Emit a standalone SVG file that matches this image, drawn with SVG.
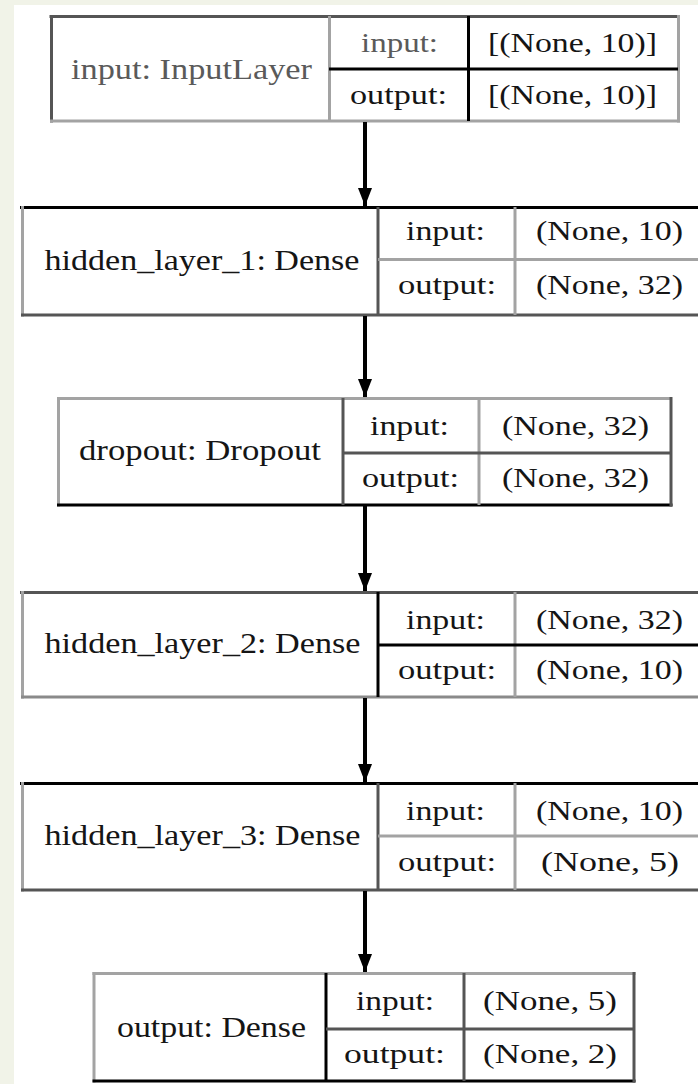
<svg xmlns="http://www.w3.org/2000/svg" width="698" height="1084" viewBox="0 0 698 1084">
  <style>
    .e { stroke-width: 3; fill: none; }
    .k { stroke: #000000; }
    .d { stroke: #555555; }
    .g { stroke: #a3a3a3; }
    .m { stroke: #8a8a8a; }
    text { font-family: "Liberation Serif", "Times New Roman", serif; fill: #151515; text-anchor: middle; }
    .lbl { font-size: 30px; }
    .row { font-size: 27px; }
    .soft { fill: #5a5a5a; }
    .conn { stroke: #000000; stroke-width: 4; fill: none; }
  </style>
  <defs>
    <marker id="head" viewBox="0 0 18 14" refX="18" refY="7" markerUnits="userSpaceOnUse" markerWidth="18" markerHeight="14" orient="auto">
      <path d="M0,0 L18,7 L0,14 Z" fill="#000000"/>
    </marker>
  </defs>

  <!-- page -->
  <rect x="0" y="0" width="698" height="1084" fill="#f1f3e8"/>
  <rect x="14" y="5" width="684" height="1079" fill="#ffffff"/>

  <!-- input: InputLayer -->
  <g id="node-input">
    <rect x="51" y="16" width="627" height="105" fill="#ffffff"/>
    <line class="e d" x1="49.5" y1="16.5" x2="680" y2="16.5"/>
    <line class="e d" x1="51.5" y1="15" x2="51.5" y2="122.5"/>
    <line class="e g" x1="50" y1="121" x2="680" y2="121"/>
    <line class="e g" x1="678.5" y1="15" x2="678.5" y2="122.5"/>
    <line class="e g" x1="329.5" y1="16" x2="329.5" y2="121"/>
    <line class="e k" x1="468.5" y1="16" x2="468.5" y2="121"/>
    <line class="e k" x1="329" y1="69" x2="678" y2="69"/>
    <text class="lbl soft" x="191.5" y="79" textLength="241" lengthAdjust="spacingAndGlyphs">input: InputLayer</text>
    <text class="row soft" x="399.5" y="52" textLength="77" lengthAdjust="spacingAndGlyphs">input:</text>
    <text class="row" x="572.5" y="52" textLength="169" lengthAdjust="spacingAndGlyphs">[(None, 10)]</text>
    <text class="row" x="398.5" y="104" textLength="97" lengthAdjust="spacingAndGlyphs">output:</text>
    <text class="row" x="572.5" y="104" textLength="169" lengthAdjust="spacingAndGlyphs">[(None, 10)]</text>
  </g>

  <!-- hidden_layer_1: Dense -->
  <g id="node-hidden1">
    <rect x="21" y="207" width="690" height="108" fill="#ffffff"/>
    <line class="e k" x1="20" y1="207.5" x2="698" y2="207.5"/>
    <line class="e g" x1="22.5" y1="206" x2="22.5" y2="316.5"/>
    <line class="e d" x1="21" y1="315" x2="698" y2="315"/>
    <line class="e d" x1="378" y1="207" x2="378" y2="315"/>
    <line class="e g" x1="515" y1="207" x2="515" y2="315"/>
    <line class="e g" x1="378" y1="259.5" x2="698" y2="259.5"/>
    <text class="lbl" x="202" y="270" textLength="315" lengthAdjust="spacingAndGlyphs">hidden_layer_1: Dense</text>
    <text class="row" x="445.5" y="240" textLength="79" lengthAdjust="spacingAndGlyphs">input:</text>
    <text class="row" x="609.5" y="240" textLength="147" lengthAdjust="spacingAndGlyphs">(None, 10)</text>
    <text class="row" x="447" y="294" textLength="98" lengthAdjust="spacingAndGlyphs">output:</text>
    <text class="row" x="609.5" y="294" textLength="147" lengthAdjust="spacingAndGlyphs">(None, 32)</text>
  </g>

  <!-- dropout: Dropout -->
  <g id="node-dropout">
    <rect x="58" y="398" width="613" height="107" fill="#ffffff"/>
    <line class="e g" x1="57" y1="398.5" x2="672" y2="398.5"/>
    <line class="e g" x1="58.5" y1="397" x2="58.5" y2="506.5"/>
    <line class="e k" x1="57" y1="505" x2="672.5" y2="505"/>
    <line class="e d" x1="671" y1="397" x2="671" y2="506.5"/>
    <line class="e d" x1="343" y1="398" x2="343" y2="505"/>
    <line class="e g" x1="479" y1="398" x2="479" y2="505"/>
    <line class="e d" x1="343" y1="453" x2="671" y2="453"/>
    <text class="lbl" x="200" y="460" textLength="242" lengthAdjust="spacingAndGlyphs">dropout: Dropout</text>
    <text class="row" x="409.5" y="435" textLength="79" lengthAdjust="spacingAndGlyphs">input:</text>
    <text class="row" x="575.5" y="435" textLength="147" lengthAdjust="spacingAndGlyphs">(None, 32)</text>
    <text class="row" x="410.5" y="487" textLength="97" lengthAdjust="spacingAndGlyphs">output:</text>
    <text class="row" x="575.5" y="487" textLength="147" lengthAdjust="spacingAndGlyphs">(None, 32)</text>
  </g>

  <!-- hidden_layer_2: Dense -->
  <g id="node-hidden2">
    <rect x="21" y="592" width="690" height="105" fill="#ffffff"/>
    <line class="e d" x1="20" y1="592.5" x2="698" y2="592.5"/>
    <line class="e g" x1="22.5" y1="591" x2="22.5" y2="698.5"/>
    <line class="e m" x1="21" y1="697" x2="698" y2="697"/>
    <line class="e k" x1="378" y1="592" x2="378" y2="697"/>
    <line class="e g" x1="515" y1="592" x2="515" y2="697"/>
    <line class="e k" x1="378" y1="645" x2="698" y2="645"/>
    <text class="lbl" x="202.5" y="653" textLength="316" lengthAdjust="spacingAndGlyphs">hidden_layer_2: Dense</text>
    <text class="row" x="445.5" y="629" textLength="79" lengthAdjust="spacingAndGlyphs">input:</text>
    <text class="row" x="609.5" y="629" textLength="147" lengthAdjust="spacingAndGlyphs">(None, 32)</text>
    <text class="row" x="447" y="679" textLength="98" lengthAdjust="spacingAndGlyphs">output:</text>
    <text class="row" x="609.5" y="679" textLength="147" lengthAdjust="spacingAndGlyphs">(None, 10)</text>
  </g>

  <!-- hidden_layer_3: Dense -->
  <g id="node-hidden3">
    <rect x="21" y="783" width="690" height="107" fill="#ffffff"/>
    <line class="e k" x1="20" y1="783.5" x2="698" y2="783.5"/>
    <line class="e g" x1="22.5" y1="782" x2="22.5" y2="891.5"/>
    <line class="e d" x1="21" y1="890" x2="698" y2="890"/>
    <line class="e d" x1="378" y1="783" x2="378" y2="890"/>
    <line class="e g" x1="515" y1="783" x2="515" y2="890"/>
    <line class="e g" x1="378" y1="836" x2="698" y2="836"/>
    <text class="lbl" x="202.5" y="845" textLength="316" lengthAdjust="spacingAndGlyphs">hidden_layer_3: Dense</text>
    <text class="row" x="445.5" y="820" textLength="79" lengthAdjust="spacingAndGlyphs">input:</text>
    <text class="row" x="609.5" y="820" textLength="147" lengthAdjust="spacingAndGlyphs">(None, 10)</text>
    <text class="row" x="447" y="871" textLength="98" lengthAdjust="spacingAndGlyphs">output:</text>
    <text class="row" x="610" y="871" textLength="138" lengthAdjust="spacingAndGlyphs">(None, 5)</text>
  </g>

  <!-- output: Dense -->
  <g id="node-output">
    <rect x="94" y="973" width="540" height="108" fill="#ffffff"/>
    <line class="e g" x1="92.5" y1="973.5" x2="635.5" y2="973.5"/>
    <line class="e g" x1="94" y1="972" x2="94" y2="1082.5"/>
    <line class="e k" x1="92.5" y1="1081" x2="635.5" y2="1081"/>
    <line class="e d" x1="634" y1="972" x2="634" y2="1082.5"/>
    <line class="e k" x1="326" y1="973" x2="326" y2="1081"/>
    <line class="e d" x1="464" y1="973" x2="464" y2="1081"/>
    <line class="e d" x1="326" y1="1029" x2="634" y2="1029"/>
    <text class="lbl" x="211.5" y="1037" textLength="189" lengthAdjust="spacingAndGlyphs">output: Dense</text>
    <text class="row" x="395" y="1010" textLength="78" lengthAdjust="spacingAndGlyphs">input:</text>
    <text class="row" x="550" y="1010" textLength="134" lengthAdjust="spacingAndGlyphs">(None, 5)</text>
    <text class="row" x="394.5" y="1063" textLength="101" lengthAdjust="spacingAndGlyphs">output:</text>
    <text class="row" x="550" y="1063" textLength="134" lengthAdjust="spacingAndGlyphs">(None, 2)</text>
  </g>

  <!-- connectors -->
  <g id="connectors">
    <line class="conn" x1="365" y1="122" x2="365" y2="206" marker-end="url(#head)"/>
    <line class="conn" x1="365" y1="316" x2="365" y2="397" marker-end="url(#head)"/>
    <line class="conn" x1="365" y1="506" x2="365" y2="591" marker-end="url(#head)"/>
    <line class="conn" x1="365" y1="698" x2="365" y2="782" marker-end="url(#head)"/>
    <line class="conn" x1="365" y1="891" x2="365" y2="972" marker-end="url(#head)"/>
  </g>
</svg>
